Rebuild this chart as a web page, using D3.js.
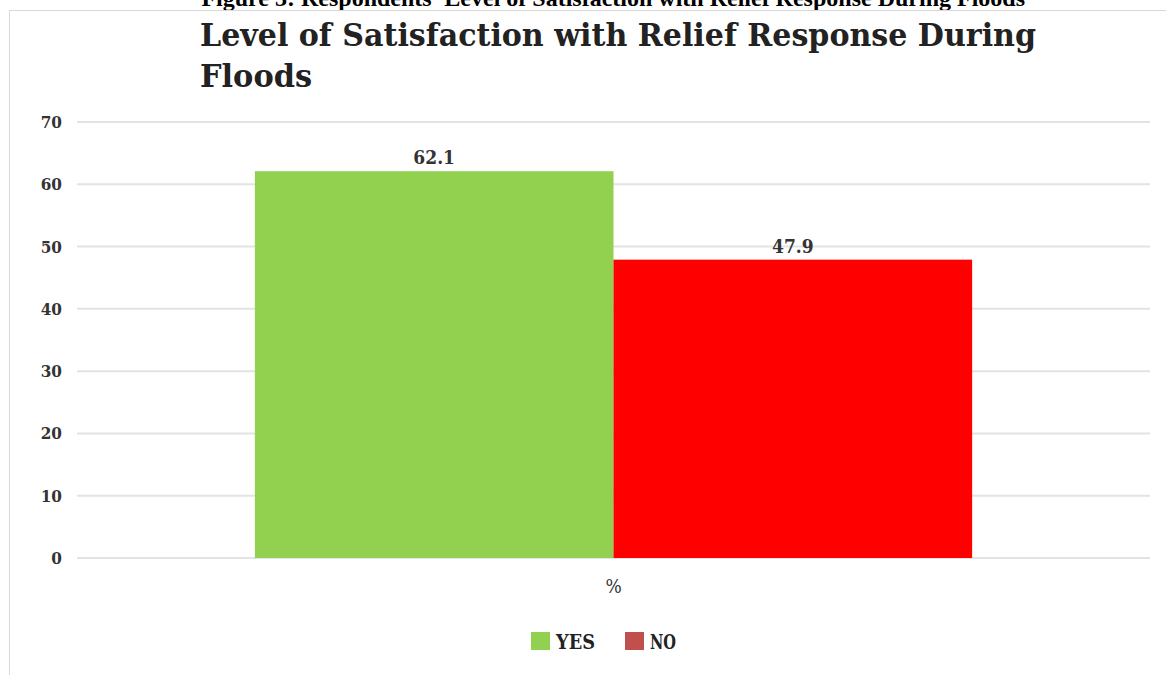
<!DOCTYPE html>
<html>
<head>
<meta charset="utf-8">
<script src="https://cdn.jsdelivr.net/npm/d3@7"></script>
<style>
  body { margin: 0; background: #fff; }
  svg { display: block; }
</style>
</head>
<body>
<svg id="chart" width="1166" height="675"></svg>
<script>
const categories = ['%'];
const seriesNames = ['YES', 'NO'];
const yesValues = [62.1];
const noValues = [47.9];
const yTicks = [0, 10, 20, 30, 40, 50, 60, 70];
const barColors = { YES: '#92D050', NO: '#FF0000' };
const legendColors = { YES: '#92D050', NO: '#C0504D' };

const svg = d3.select('#chart');
const W = 1166, H = 675;
const margin = { top: 122, right: 16, bottom: 117, left: 77 };
const w = W - margin.left - margin.right;
const h = H - margin.top - margin.bottom;
const serif = 'DejaVu Serif Condensed, DejaVu Serif, serif';

// caption of the figure, cut off by the page top
svg.append('text')
    .attr('x', 1025).attr('y', 6)
    .attr('text-anchor', 'end')
    .attr('font-family', 'Liberation Serif, Times New Roman, serif')
    .attr('font-weight', 'bold').attr('font-size', 24)
    .text("Figure 3: Respondents' Level of Satisfaction with Relief Response During Floods");

// chart frame
svg.append('rect')
    .attr('x', 9.5).attr('y', 10.5)
    .attr('width', W).attr('height', H)
    .attr('fill', 'none').attr('stroke', '#d9d9d9');

// title
const title = svg.append('g').attr('font-family', serif)
    .attr('font-weight', 'bold').attr('fill', '#222').attr('font-size', 32);
title.append('text').attr('x', 200).attr('y', 46)
    .attr('textLength', 836).attr('lengthAdjust', 'spacingAndGlyphs')
    .text('Level of Satisfaction with Relief Response During');
title.append('text').attr('x', 200).attr('y', 87)
    .attr('textLength', 112).attr('lengthAdjust', 'spacingAndGlyphs')
    .text('Floods');

const g = svg.append('g').attr('transform', `translate(${margin.left},${margin.top})`);

const y = d3.scaleLinear().domain([0, 70]).range([h, 0]);
const x0 = d3.scaleBand().domain(categories).range([0, w]).paddingInner(0).paddingOuter(0.248);
const x1 = d3.scaleBand().domain(seriesNames).range([0, x0.bandwidth()]);

// grid
g.append('g').selectAll('line').data(yTicks).enter().append('line')
    .attr('x1', 0).attr('x2', w)
    .attr('y1', d => y(d)).attr('y2', d => y(d))
    .attr('stroke', '#e3e3e3').attr('stroke-width', 2);

// y axis
const yAxis = d3.axisLeft(y).tickValues(yTicks).tickSize(0).tickPadding(15);
g.append('g').call(yAxis)
    .call(a => a.select('.domain').remove())
    .selectAll('text')
    .attr('font-family', serif).attr('font-weight', 'bold')
    .attr('font-size', 17).attr('fill', '#333');

const rows = categories.map((c, i) => ({
    cat: c,
    vals: [{ key: 'YES', v: yesValues[i] }, { key: 'NO', v: noValues[i] }]
}));

const cg = g.selectAll('.cat').data(rows).enter().append('g')
    .attr('transform', d => `translate(${x0(d.cat)},0)`);

cg.selectAll('rect').data(d => d.vals).enter().append('rect')
    .attr('x', d => x1(d.key)).attr('width', x1.bandwidth())
    .attr('y', d => y(d.v)).attr('height', d => h - y(d.v))
    .attr('fill', d => barColors[d.key]);

cg.selectAll('.lbl').data(d => d.vals).enter().append('text')
    .attr('x', d => x1(d.key) + x1.bandwidth() / 2)
    .attr('y', d => y(d.v) - 7)
    .attr('text-anchor', 'middle')
    .attr('font-family', serif).attr('font-weight', 'bold')
    .attr('font-size', 19).attr('fill', '#333')
    .text(d => d.v.toFixed(1));

// x axis
const xAxis = d3.axisBottom(x0).tickSize(0).tickPadding(22);
g.append('g').attr('transform', `translate(0,${h})`).call(xAxis)
    .call(a => a.select('.domain').remove())
    .selectAll('text')
    .attr('font-family', serif)
    .attr('font-size', 19).attr('fill', '#333');

// legend
const legend = svg.append('g').attr('transform', 'translate(531,632)');
const items = legend.selectAll('g').data(seriesNames).enter().append('g')
    .attr('transform', (d, i) => `translate(${i * 94},0)`);
items.append('rect').attr('width', 19).attr('height', 18)
    .attr('fill', d => legendColors[d]);
items.append('text').attr('x', 25).attr('y', 17)
    .attr('font-family', serif).attr('font-weight', 'bold')
    .attr('textLength', d => d.length * 13).attr('lengthAdjust', 'spacingAndGlyphs')
    .attr('font-size', 20).attr('fill', '#222')
    .text(d => d);
</script>
</body>
</html>
